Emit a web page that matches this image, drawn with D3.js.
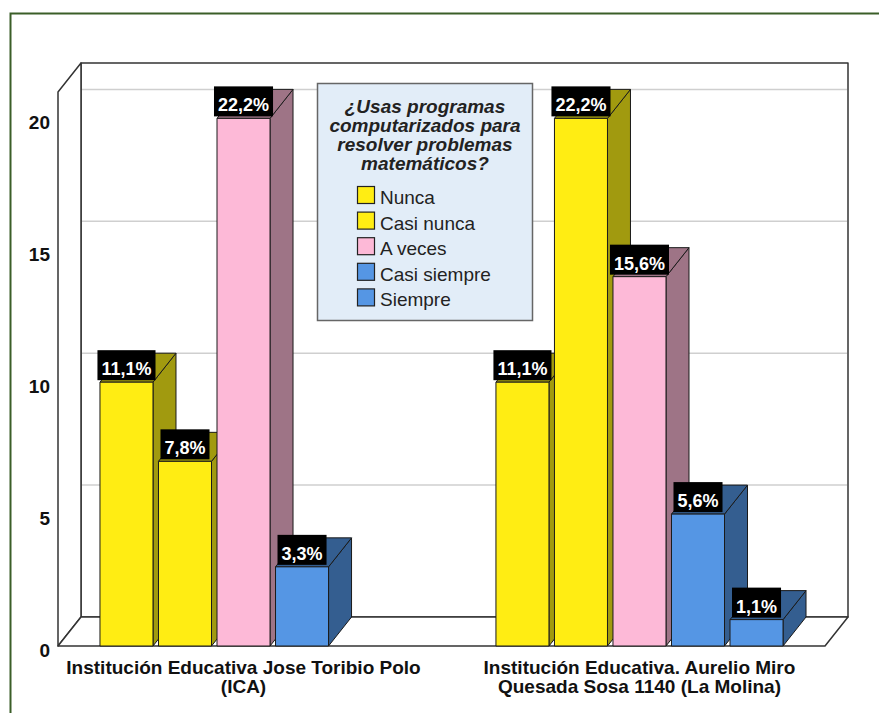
<!DOCTYPE html>
<html>
<head>
<meta charset="utf-8">
<script src="https://cdn.jsdelivr.net/npm/d3@7"></script>
<style>
  body { margin: 0; background: #fff; }
  text { font-family: "Liberation Sans", Arial, sans-serif; }
</style>
</head>
<body>
<div class="chart"></div>
<script>
// Chart data
var groups = ["ICA", "La Molina"];
var groupLabels = [
  ["Institución Educativa Jose Toribio Polo", "(ICA)"],
  ["Institución Educativa. Aurelio Miro", "Quesada Sosa 1140 (La Molina)"]
];
var series = ["Nunca", "Casi nunca", "A veces", "Casi siempre", "Siempre"];
var countsICA = [10, 7, 20, 3, 0];
var countsMolina = [10, 20, 14, 5, 1];
var yTicks = [0, 5, 10, 15, 20];
var legendTitle = ["¿Usas programas", "computarizados para", "resolver problemas", "matemáticos?"];

// Colours (front face / side + top face)
var frontColors = ["#ffed13", "#ffed13", "#fdb9d7", "#5596e4", "#5596e4"];
var sideColors = ["#a19a0f", "#a19a0f", "#9e7486", "#345e90", "#345e90"];

// Chart Params
var svgWidth = 879;
var svgHeight = 713;
var depthX = 23;
var depthY = -29;

var svg = d3.select(".chart")
  .append("svg")
  .attr("width", svgWidth)
  .attr("height", svgHeight);

// outer green frame
svg.append("rect")
  .attr("x", 10.5)
  .attr("y", 13.5)
  .attr("width", 900)
  .attr("height", 760)
  .attr("fill", "#fff")
  .attr("stroke", "#3b5e28")
  .attr("stroke-width", 2);

// scales
var x0 = d3.scaleBand()
  .domain(groups)
  .range([58, 825])
  .paddingInner(0.275)
  .paddingOuter(0.106);

var x1 = d3.scaleBand()
  .domain(series)
  .range([0, x0.bandwidth()])
  .paddingInner(0.094)
  .paddingOuter(0);

var y = d3.scaleLinear()
  .domain([0, 21])
  .range([646, 92]);

var front = d3.scaleOrdinal().domain(series).range(frontColors);
var side = d3.scaleOrdinal().domain(series).range(sideColors);

var xL = x0.range()[0];
var xR = x0.range()[1];
var y0 = y(0);
var yTop = y(21);

// 3D walls: back wall, left wall, floor
var walls = svg.append("g")
  .attr("fill", "#fff")
  .attr("stroke", "#333")
  .attr("stroke-width", 1.5)
  .attr("stroke-linejoin", "round");

walls.append("rect")
  .attr("x", xL + depthX)
  .attr("y", yTop + depthY)
  .attr("width", xR - xL)
  .attr("height", y0 - yTop);

// gridlines on the back wall
svg.append("g")
  .selectAll("line")
  .data(yTicks.filter(d => d > 0))
  .enter()
  .append("line")
  .attr("x1", xL + depthX + 1)
  .attr("x2", xR + depthX - 1)
  .attr("y1", d => y(d) + depthY)
  .attr("y2", d => y(d) + depthY)
  .attr("stroke", "#cfcfcf")
  .attr("stroke-width", 1.5);

walls.append("polygon")
  .attr("points", [[xL, yTop], [xL + depthX, yTop + depthY], [xL + depthX, y0 + depthY], [xL, y0]].join(" "));

walls.append("polygon")
  .attr("points", [[xL, y0], [xL + depthX, y0 + depthY], [xR + depthX, y0 + depthY], [xR, y0]].join(" "));

// y axis labels
var leftAxis = d3.axisLeft(y)
  .tickValues(yTicks)
  .tickSize(0)
  .tickPadding(8);

var yAxisG = svg.append("g")
  .attr("transform", `translate(${xL}, 4.4)`)
  .call(leftAxis);
yAxisG.select(".domain").remove();
yAxisG.selectAll("text")
  .attr("font-family", "Liberation Sans, Arial, sans-serif")
  .attr("font-size", 19)
  .attr("font-weight", "bold")
  .attr("fill", "#111");

// bar data
var total = d3.sum(countsICA) + d3.sum(countsMolina);
var barData = [];
[countsICA, countsMolina].forEach(function(counts, i) {
  counts.forEach(function(v, j) {
    barData.push({ group: groups[i], series: series[j], value: v });
  });
});
barData = barData.filter(d => d.value > 0);

var bw = x1.bandwidth();

var bars = svg.append("g")
  .selectAll("g")
  .data(barData)
  .enter()
  .append("g")
  .attr("stroke", "#1a1a1a")
  .attr("stroke-width", 1)
  .attr("stroke-linejoin", "round");

// side face
bars.append("polygon")
  .attr("fill", d => side(d.series))
  .attr("points", function(d) {
    var bx = x0(d.group) + x1(d.series) + bw;
    var by = y(d.value);
    return [[bx, by], [bx + depthX, by + depthY], [bx + depthX, y0 + depthY], [bx, y0]].join(" ");
  });

// top face
bars.append("polygon")
  .attr("fill", d => side(d.series))
  .attr("points", function(d) {
    var bx = x0(d.group) + x1(d.series);
    var by = y(d.value);
    return [[bx, by], [bx + depthX, by + depthY], [bx + bw + depthX, by + depthY], [bx + bw, by]].join(" ");
  });

// front face
bars.append("rect")
  .attr("fill", d => front(d.series))
  .attr("x", d => x0(d.group) + x1(d.series))
  .attr("y", d => y(d.value))
  .attr("width", bw)
  .attr("height", d => y0 - y(d.value));

// percentage labels (black boxes)
var labels = svg.append("g")
  .selectAll("g")
  .data(barData)
  .enter()
  .append("g")
  .attr("transform", d => `translate(${x0(d.group) + x1(d.series) + bw / 2}, ${y(d.value)})`);

labels.append("text")
  .attr("text-anchor", "middle")
  .attr("y", -7)
  .attr("font-size", 18)
  .attr("font-weight", "bold")
  .attr("fill", "#fff")
  .text(d => (d.value / total * 100).toFixed(1).replace(".", ",") + "%")
  .each(function() {
    var w = this.getComputedTextLength();
    d3.select(this.parentNode).insert("rect", "text")
      .attr("x", -w / 2 - 4)
      .attr("y", -32)
      .attr("width", w + 8)
      .attr("height", 30)
      .attr("fill", "#000");
  });

// category labels
var catLabels = svg.append("g")
  .selectAll("text")
  .data(groups)
  .enter()
  .append("text")
  .attr("text-anchor", "middle")
  .attr("font-size", 19)
  .attr("font-weight", "bold")
  .attr("fill", "#111")
  .attr("transform", d => `translate(${x0(d) + x0.bandwidth() / 2}, 674)`);

catLabels.selectAll("tspan")
  .data((d, i) => groupLabels[i])
  .enter()
  .append("tspan")
  .attr("x", 0)
  .attr("y", (d, i) => i * 19)
  .text(d => d);

// legend
var legend = svg.append("g");

legend.append("rect")
  .attr("x", 317.5)
  .attr("y", 83.5)
  .attr("width", 215)
  .attr("height", 237)
  .attr("fill", "#e2edf8")
  .attr("stroke", "#666")
  .attr("stroke-width", 1.5);

legend.selectAll(".ltitle")
  .data(legendTitle)
  .enter()
  .append("text")
  .attr("class", "ltitle")
  .attr("x", 425)
  .attr("y", (d, i) => 112.5 + i * 19)
  .attr("text-anchor", "middle")
  .attr("font-size", 19)
  .attr("font-weight", "bold")
  .attr("font-style", "italic")
  .attr("fill", "#222")
  .text(d => d);

var items = legend.selectAll(".litem")
  .data(series)
  .enter()
  .append("g")
  .attr("class", "litem")
  .attr("transform", (d, i) => `translate(357, ${186 + i * 25.6})`);

items.append("rect")
  .attr("x", 0.5)
  .attr("y", 0.5)
  .attr("width", 17)
  .attr("height", 17)
  .attr("fill", d => front(d))
  .attr("stroke", "#222")
  .attr("stroke-width", 1.2);

items.append("text")
  .attr("x", 23)
  .attr("y", 18)
  .attr("font-size", 19)
  .attr("fill", "#222")
  .text(d => d);
</script>
</body>
</html>
